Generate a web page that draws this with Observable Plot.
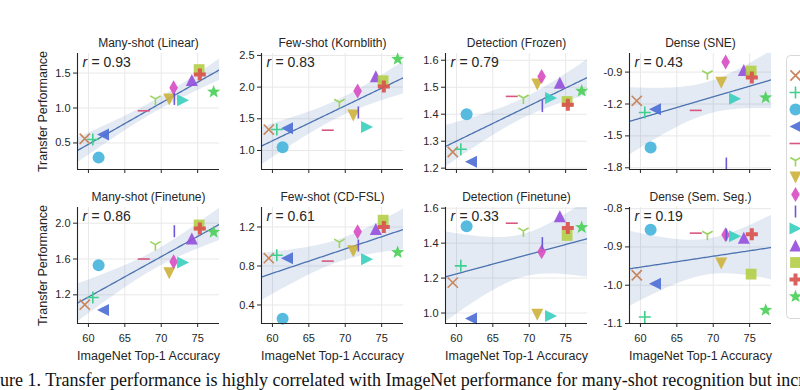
<!DOCTYPE html>
<html><head><meta charset="utf-8">
<script src="https://cdn.jsdelivr.net/npm/d3@7"></script>
<script src="https://cdn.jsdelivr.net/npm/@observablehq/plot@0.6"></script>
<style>
html,body{margin:0;padding:0;background:#fff;}
#root{position:relative;width:800px;height:390px;overflow:hidden;font-family:"Liberation Sans",Arial,sans-serif;background:#fff;}
.panel{position:absolute;}
#caption{position:absolute;left:-24px;top:370px;white-space:nowrap;font-family:"Liberation Serif","Times New Roman",serif;font-size:18px;color:#111;}
</style></head><body><div id="root"></div>
<script>
// ---------------- data ----------------
const models = ["InsDis","MoCo-v1","PCL-v1","PIRL","PCL-v2","SimCLR-v1","MoCo-v2","SimCLR-v2","SeLa-v2","InfoMin","BYOL","DeepCluster-v2","SwAV","Supervised"];
const accuracy = [59.5, 60.6, 61.4, 62.0, 67.6, 69.2, 71.1, 71.7, 71.8, 73.0, 74.2, 75.2, 75.3, 77.2];

const panelTitles = ["Many-shot (Linear)","Few-shot (Kornblith)","Detection (Frozen)","Dense (SNE)",
                     "Many-shot (Finetune)","Few-shot (CD-FSL)","Detection (Finetune)","Dense (Sem. Seg.)"];
const rValues = ["0.93","0.83","0.79","0.43","0.86","0.61","0.33","0.19"];

const manyShotLinear   = [0.56, 0.55, 0.29, 0.62, 0.96, 1.13, 1.12, 1.29, 1.13, 1.11, 1.40, 1.55, 1.48, 1.23];
const fewShotKornblith = [1.33, 1.33, 1.05, 1.35, 1.32, 1.76, 1.55, 1.94, 1.60, 1.37, 2.17, 2.10, 2.01, 2.44];
const detectionFrozen  = [1.26, 1.27, 1.40, 1.224, 1.466, 1.46, 1.51, 1.54, 1.43, 1.46, 1.517, 1.447, 1.435, 1.486];
const denseSNE         = [-1.17, -1.28, -1.61, -1.25, -1.26, -0.915, -1.00, -0.806, -1.76, -1.15, -0.88, -0.89, -0.95, -1.14];
const manyShotFinetune = [1.09, 1.17, 1.53, 1.03, 1.60, 1.76, 1.44, 1.57, 1.91, 1.56, 1.83, 1.98, 1.94, 1.90];
const fewShotCDFSL     = [0.88, 0.91, 0.26, 0.88, 0.85, 1.045, 0.95, 1.15, 1.01, 0.87, 1.18, 1.27, 1.20, 0.94];
const detectionFinetune= [1.174, 1.27, 1.497, 0.968, 1.514, 1.47, 0.99, 1.35, 1.40, 0.983, 1.554, 1.444, 1.486, 1.49];
const denseSemSeg      = [-0.974, -1.083, -0.855, -0.996, -0.864, -0.867, -0.943, -0.868, -0.868, -0.872, -0.876, -0.971, -0.867, -1.065];

const panelValues = [manyShotLinear, fewShotKornblith, detectionFrozen, denseSNE,
                     manyShotFinetune, fewShotCDFSL, detectionFinetune, denseSemSeg];

const xDomain = [58.5, 78];
const xTicks = [60, 65, 70, 75];
const yDomains = [[0.12,1.78],[0.70,2.53],[1.195,1.625],[-1.816,-0.725],
                  [0.88,2.175],[0.21,1.40],[0.94,1.604],[-1.1,-0.797]];
const yTicks = [[0.5,1.0,1.5],[1.0,1.5,2.0,2.5],[1.2,1.3,1.4,1.5,1.6],[-1.8,-1.5,-1.2,-0.9],
                [1.2,1.6,2.0],[0.4,0.8,1.2],[1.0,1.2,1.4,1.6],[-1.1,-1.0,-0.9,-0.8]];

const xLabel = "ImageNet Top-1 Accuracy";
const yLabel = "Transfer Performance";
const captionText = "Figure 1. Transfer performance is highly correlated with ImageNet performance for many-shot recognition but increasingly less so for few-shot recognition, object detection and dense prediction.";

// ---------------- styles ----------------
const palette = ["#c8865c","#3fcf8f","#48b5dc","#4f6fd6","#d8577f","#9ad35f","#cdb33f",
                 "#d84fc3","#6a58d8","#3ccfbf","#9650dc","#b4cf4a","#d9534e","#4ccf5a"];
const S = (f, stroked) => ({stroked, draw(c, size) { f(c, Math.sqrt(size / Math.PI)); }});
const shapes = {
  x: S((c, r) => { const a = r * 0.85; c.moveTo(-a,-a); c.lineTo(a,a); c.moveTo(-a,a); c.lineTo(a,-a); }, true),
  plus: S((c, r) => { c.moveTo(-r,0); c.lineTo(r,0); c.moveTo(0,-r); c.lineTo(0,r); }, true),
  circle: S((c, r) => { c.moveTo(r,0); c.arc(0,0,r,0,2*Math.PI); }, false),
  left: S((c, r) => { c.moveTo(-r,0); c.lineTo(r,-r); c.lineTo(r,r); c.closePath(); }, false),
  hline: S((c, r) => { c.moveTo(-r,0); c.lineTo(r,0); }, true),
  tri1: S((c, r) => { c.moveTo(0,0); c.lineTo(0,r); c.moveTo(0,0); c.lineTo(-0.87*r,-0.5*r); c.moveTo(0,0); c.lineTo(0.87*r,-0.5*r); }, true),
  down: S((c, r) => { c.moveTo(0,r); c.lineTo(-r,-r); c.lineTo(r,-r); c.closePath(); }, false),
  thin: S((c, r) => { c.moveTo(0,-1.25*r); c.lineTo(0.72*r,0); c.lineTo(0,1.25*r); c.lineTo(-0.72*r,0); c.closePath(); }, false),
  vline: S((c, r) => { c.moveTo(0,-r); c.lineTo(0,r); }, true),
  right: S((c, r) => { c.moveTo(r,0); c.lineTo(-r,-r); c.lineTo(-r,r); c.closePath(); }, false),
  up: S((c, r) => { c.moveTo(0,-r); c.lineTo(r,r); c.lineTo(-r,r); c.closePath(); }, false),
  square: S((c, r) => { const a = r * 0.9; c.rect(-a,-a,2*a,2*a); }, false),
  pfill: S((c, r) => { const a = r, b = r/3;
    c.moveTo(-b,-a); c.lineTo(b,-a); c.lineTo(b,-b); c.lineTo(a,-b); c.lineTo(a,b); c.lineTo(b,b);
    c.lineTo(b,a); c.lineTo(-b,a); c.lineTo(-b,b); c.lineTo(-a,b); c.lineTo(-a,-b); c.lineTo(-b,-b); c.closePath(); }, false),
  star: S((c, r) => { const R = r * 1.15, q = R * 0.42;
    for (let k = 0; k < 10; k++) { const ang = -Math.PI/2 + k*Math.PI/5, rr = k % 2 ? q : R;
      const px = rr*Math.cos(ang), py = rr*Math.sin(ang); k ? c.lineTo(px,py) : c.moveTo(px,py); }
    c.closePath(); }, false)
};
const markerShapes = [shapes.x, shapes.plus, shapes.circle, shapes.left, shapes.hline, shapes.tri1, shapes.down,
                      shapes.thin, shapes.vline, shapes.right, shapes.up, shapes.square, shapes.pfill, shapes.star];
const strokedModels = new Set(models.filter((m, j) => markerShapes[j].stroked));

const colorScale = {type: "ordinal", domain: models, range: palette};
const symbolScale = {domain: models, range: markerShapes};
const ink = "#262626";
const DOT_R = 6;

// layout
const AX = [77, 261, 445, 629], AY = [53, 207], PW = 142, PH = 116;
const ML = 40, MR = 12, MT = 26, MB = 46;

// regression with 95% CI, derived from the data
function regression(xs, ys, dom) {
  const n = xs.length, mx = d3.mean(xs), my = d3.mean(ys);
  let sxx = 0, sxy = 0;
  for (let i = 0; i < n; i++) { sxx += (xs[i]-mx)**2; sxy += (xs[i]-mx)*(ys[i]-my); }
  const b = sxy / sxx, a = my - b * mx;
  let sse = 0;
  for (let i = 0; i < n; i++) sse += (ys[i] - a - b*xs[i])**2;
  const s = Math.sqrt(sse / (n - 2)), t = 2.179;
  return d3.range(101).map(k => {
    const x = dom[0] + (dom[1]-dom[0]) * k / 100, yh = a + b * x;
    const se = s * Math.sqrt(1/n + (x-mx)**2 / sxx);
    return {x, yhat: yh, lo: yh - t*se, hi: yh + t*se};
  });
}

const root = document.getElementById("root");

function makePanel(i) {
  const row = Math.floor(i / 4), col = i % 4;
  const ys = panelValues[i];
  const pts = models.map((m, j) => ({model: m, x: accuracy[j], y: ys[j]}));
  const fit = regression(accuracy, ys, xDomain);
  const marks = [
    Plot.gridX(xTicks, {stroke: "#e8e8e8", strokeOpacity: 1}),
    Plot.gridY(yTicks[i], {stroke: "#e8e8e8", strokeOpacity: 1}),
    Plot.areaY(fit, {x: "x", y1: "lo", y2: "hi", fill: "#4c72b0", fillOpacity: 0.15, clip: true}),
    Plot.line(fit, {x: "x", y: "yhat", stroke: "#4c72b0", strokeWidth: 1.3, clip: true}),
    Plot.dot(pts.filter(d => !strokedModels.has(d.model)), {x: "x", y: "y", symbol: "model", fill: "model", stroke: "none", r: DOT_R, fillOpacity: 0.92}),
    Plot.dot(pts.filter(d => strokedModels.has(d.model)), {x: "x", y: "y", symbol: "model", stroke: "model", fill: "none", r: DOT_R, strokeWidth: 1.6}),
    Plot.ruleX([xDomain[0]], {stroke: ink, strokeWidth: 1.1}),
    Plot.ruleY([yDomains[i][0]], {stroke: ink, strokeWidth: 1.1}),
    Plot.axisX(xTicks, {tickSize: 4, tickPadding: 7, label: null, tickFormat: row === 1 ? (d => String(d)) : (() => ""), fontSize: 11}),
    Plot.axisY(yTicks[i], {tickSize: 4, tickPadding: 3, label: null, tickFormat: d => d.toFixed(1), fontSize: 11}),
    Plot.text([panelTitles[i]], {text: d => d, frameAnchor: "top", dy: -10, lineAnchor: "middle", textAnchor: "middle", fontSize: 12, fill: ink}),
    Plot.text(["r"], {text: d => d, frameAnchor: "top-left", dx: 5, dy: 9, lineAnchor: "middle", fontSize: 14, fontStyle: "italic", textAnchor: "start", fill: ink}),
    Plot.text(["= " + rValues[i]], {text: d => d, frameAnchor: "top-left", dx: 14, dy: 9, lineAnchor: "middle", fontSize: 14, textAnchor: "start", fill: ink})
  ];
  if (col === 0) marks.push(Plot.text([yLabel], {text: d => d, frameAnchor: "left", dx: -35, rotate: -90, textAnchor: "middle", lineAnchor: "middle", fontSize: 12.5, fill: ink}));
  if (row === 1) marks.push(Plot.text([xLabel], {text: d => d, frameAnchor: "bottom", dy: 32, textAnchor: "middle", lineAnchor: "middle", fontSize: 12.5, fill: ink}));
  const svg = Plot.plot({
    width: ML + PW + MR, height: MT + PH + MB,
    marginLeft: ML, marginRight: MR, marginTop: MT, marginBottom: MB,
    x: {domain: xDomain}, y: {domain: yDomains[i]},
    color: colorScale, symbol: symbolScale,
    style: {background: "none", overflow: "visible", color: ink, fontFamily: "'Liberation Sans', Arial, sans-serif", fontSize: "11px"},
    marks
  });
  svg.classList.add("panel");
  svg.style.position = "absolute";
  svg.style.left = (AX[col] - ML) + "px";
  svg.style.top = (AY[row] - MT) + "px";
  root.appendChild(svg);
}

for (let i = 0; i < 8; i++) makePanel(i);

// legend box (its labels fall outside the window, as in the reference)
const legend = Plot.plot({
  width: 30, height: 265, marginLeft: 1, marginTop: 1, marginBottom: 1, marginRight: 0,
  x: {axis: null, domain: [0, 1]},
  y: {type: "point", domain: models, range: [8, 254], axis: null},
  color: colorScale, symbol: symbolScale,
  style: {background: "none", overflow: "visible"},
  marks: [
    Plot.frame({stroke: "#d8d8d8", fill: "white", rx: 4}),
    Plot.dot(models.filter(m => !strokedModels.has(m)), {y: d => d, frameAnchor: "left", dx: 9, symbol: d => d, fill: d => d, stroke: "none", r: DOT_R, fillOpacity: 0.92}),
    Plot.dot(models.filter(m => strokedModels.has(m)), {y: d => d, frameAnchor: "left", dx: 9, symbol: d => d, stroke: d => d, fill: "none", r: DOT_R, strokeWidth: 1.6})
  ]
});
legend.style.position = "absolute";
legend.style.left = "785px";
legend.style.top = "54px";
root.appendChild(legend);

const cap = document.createElement("div");
cap.id = "caption";
cap.textContent = captionText;
root.appendChild(cap);
</script></body></html>
